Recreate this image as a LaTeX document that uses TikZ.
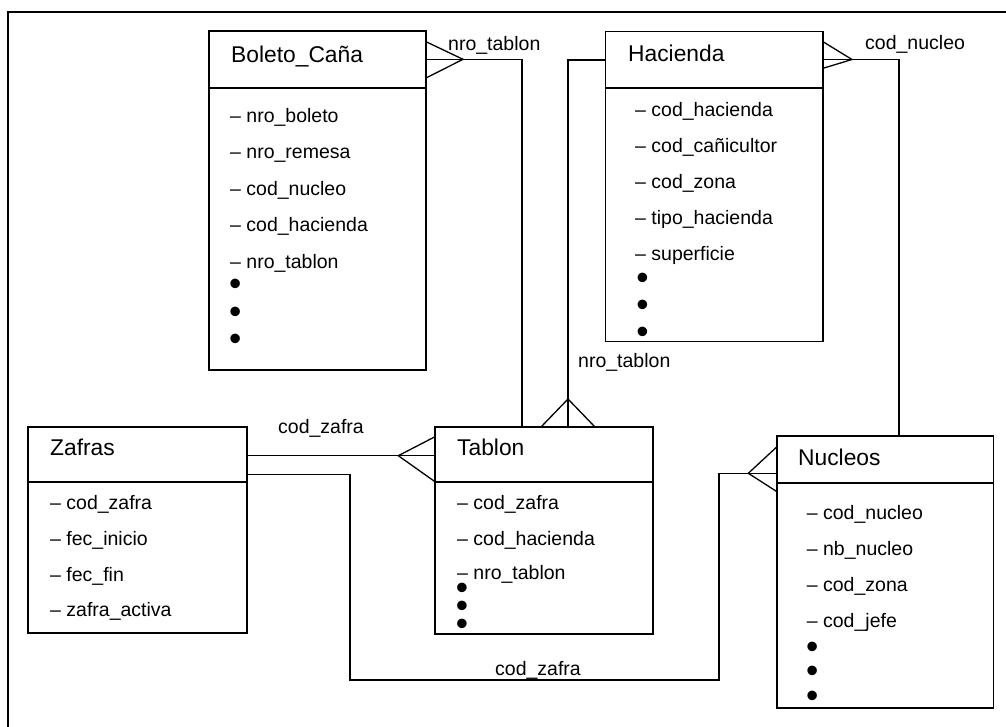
\documentclass[tikz,border=0pt]{standalone}
\usepackage{fontspec}
\setmainfont{Liberation Sans}
\usetikzlibrary{calc}
\begin{document}
\begin{tikzpicture}[x=1pt,y=-1pt,
  box/.style={draw,line width=1.6pt,inner sep=0pt,outer sep=0pt,anchor=north west},
  sep/.style={line width=1.4pt},
  ttl/.style={anchor=base west,inner sep=0pt,font=\fontsize{22.8}{24}\selectfont},
  itm/.style={anchor=base west,inner sep=0pt,font=\fontsize{19.5}{22}\selectfont},
  blt/.style={anchor=base west,inner sep=0pt,font=\fontsize{35}{36}\selectfont},
  lbl/.style={anchor=base west,inner sep=0pt,font=\fontsize{19.5}{22}\selectfont},
  con/.style={line width=1.3pt},
  frm/.style={line width=2pt}]
\useasboundingbox (0,0) rectangle (1006,726);
\fill[white] (0,0) rectangle (1006,726);
\draw[frm] (1012,12) -- (8,12) -- (8,732);

% ---------- boxes ----------
\node[box,minimum width=217pt,minimum height=339pt] (bol) at (209,31) {};
\node[box,minimum width=217.5pt,minimum height=310pt] (hac) at (605.5,31.5) {};
\node[box,minimum width=218.5pt,minimum height=206pt] (zaf) at (28.2,427) {};
\node[box,minimum width=218pt,minimum height=207pt] (tab) at (435,427) {};
\node[box,minimum width=216.5pt,minimum height=272pt] (nuc) at (777,436) {};

\draw[sep] (bol.west |- 0,88) -- (bol.east |- 0,88);
\draw[sep] (hac.west |- 0,88) -- (hac.east |- 0,88);
\draw[sep] (zaf.west |- 0,482) -- (zaf.east |- 0,482);
\draw[sep] (tab.west |- 0,482) -- (tab.east |- 0,482);
\draw[sep] (nuc.west |- 0,483) -- (nuc.east |- 0,483);

% ---------- Boleto_Caña ----------
\node[ttl] (bolt) at (231,62) {Boleto\_Caña};
\node[itm] (bol1) at (230,122) {– nro\_boleto};
\node[itm] (bol2) at (230,158.5) {– nro\_remesa};
\node[itm] (bol3) at (230,195) {– cod\_nucleo};
\node[itm] (bol4) at (230,231.7) {– cod\_hacienda};
\node[itm] (bol5) at (230,268.3) {– nro\_tablon};
\node[blt] (bol6) at (228.9,295.9) {•};
\node[blt] (bol7) at (228.9,323.6) {•};
\node[blt] (bol8) at (228.9,350.9) {•};

% ---------- Hacienda ----------
\node[ttl] (hact) at (628,61) {Hacienda};
\node[itm] (hac1) at (635,116.7) {– cod\_hacienda};
\node[itm] (hac2) at (635,152.5) {– cod\_cañicultor};
\node[itm] (hac3) at (635,188.5) {– cod\_zona};
\node[itm] (hac4) at (635,224.5) {– tipo\_hacienda};
\node[itm] (hac5) at (635,260.5) {– superficie};
\node[blt] (hac6) at (636.2,289.9) {•};
\node[blt] (hac7) at (636.2,316.6) {•};
\node[blt] (hac8) at (636.2,343.6) {•};

% ---------- Zafras ----------
\node[ttl] (zaft) at (50,455) {Zafras};
\node[itm] (zaf1) at (50,509) {– cod\_zafra};
\node[itm] (zaf2) at (50,545) {– fec\_inicio};
\node[itm] (zaf3) at (50,581.7) {– fec\_fin};
\node[itm] (zaf4) at (50,616.7) {– zafra\_activa};

% ---------- Tablon ----------
\node[ttl] (tabt) at (457,455) {Tablon};
\node[itm] (tab1) at (457,509) {– cod\_zafra};
\node[itm] (tab2) at (457,545) {– cod\_hacienda};
\node[itm] (tab3) at (457,579.5) {– nro\_tablon};
\node[blt] (tab4) at (455.6,599.9) {•};
\node[blt] (tab5) at (455.6,617.6) {•};
\node[blt] (tab6) at (455.6,635.9) {•};

% ---------- Nucleos ----------
\node[ttl] (nuct) at (798,465) {Nucleos};
\node[itm] (nuc1) at (806.7,519) {– cod\_nucleo};
\node[itm] (nuc2) at (806.7,555) {– nb\_nucleo};
\node[itm] (nuc3) at (806.7,591) {– cod\_zona};
\node[itm] (nuc4) at (806.7,627) {– cod\_jefe};
\node[blt] (nuc5) at (805.9,658.9) {•};
\node[blt] (nuc6) at (805.9,682.9) {•};
\node[blt] (nuc7) at (805.9,707.9) {•};

% ---------- connectors ----------
% Boleto_Caña -- Tablon
\coordinate (ap1) at ($(bol.north east)+(37,28.3)$);
\draw[con] ($(bol.north east)+(0,10.7)$) -- (ap1) -- ($(bol.north east)+(0,47)$);
\draw[con] ($(bol.north east)+(0,28.3)$) -| (tab.north -| 522,0);
\node[lbl] (l1) at (448,50.7) {nro\_tablon};

% Hacienda -- Nucleos
\coordinate (ap2) at ($(hac.north east)+(29,28)$);
\draw[con] ($(hac.north east)+(0,10.2)$) -- (ap2) -- ($(hac.north east)+(0,36.8)$);
\draw[con] ($(hac.north east)+(0,28)$) -| (nuc.north -| 899,0);
\node[lbl] (l2) at (865,49.5) {cod\_nucleo};

% Hacienda -- Tablon
\coordinate (ap3) at (568,399);
\draw[con] ($(hac.north west)+(0,28.5)$) -| (tab.north -| 568,0);
\draw[con] (tab.north -| 541,0) -- (ap3) -- (tab.north -| 595,0);
\node[lbl] (l3) at (578,367.3) {nro\_tablon};

% Zafras -- Tablon
\coordinate (ap4) at (398.3,455.7);
\draw[con] (zaf.east |- 0,455.7) -- (tab.west |- 0,455.7);
\draw[con] (tab.west |- 0,436.7) -- (ap4) -- (tab.west |- 0,481.7);
\node[lbl] (l4) at (278,433.3) {cod\_zafra};

% Zafras -- Nucleos
\coordinate (ap5) at (748.3,473.3);
\coordinate (b1) at (350,680);
\coordinate (b2) at (719,473.3);
\draw[con] (zaf.east |- 0,474.3) -| (b1) -| (b2) -- (nuc.west |- b2);
\draw[con] (nuc.west |- 0,446.7) -- (ap5) -- (nuc.west |- 0,491.7);
\node[lbl] (l5) at (495,675) {cod\_zafra};
\end{tikzpicture}
\end{document}
